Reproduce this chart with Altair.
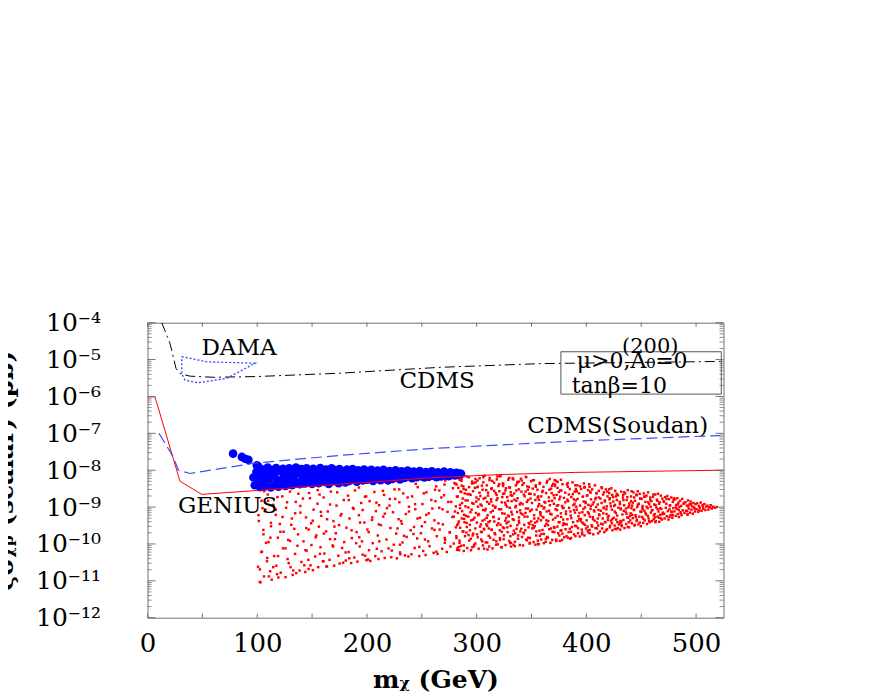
import altair as alt
import pandas as pd

# ---------------- data: x = m_chi (GeV), e = log10(sigma / pb) ----------------
cdms_x = [13, 20.5, 26, 29.6, 38.8, 60, 100, 175, 267, 358, 440, 525]
cdms_e = [-4.0, -4.56, -5.24, -5.38, -5.45, -5.48, -5.46, -5.37, -5.21, -5.11, -5.08, -5.05]

soudan_x = [10.5, 23.5, 28.1, 38.8, 44.9, 100, 175, 260, 390, 522]
soudan_e = [-7.0, -7.64, -8.0, -8.09, -8.06, -7.8, -7.6, -7.41, -7.21, -7.06]

genius_x = [0, 6.8, 29.6, 49.4, 100, 175, 262, 320, 390, 525]
genius_e = [-6.01, -6.01, -8.3, -8.655, -8.55, -8.38, -8.2, -8.12, -8.06, -8.0]

dama_x = [31.2, 54.0, 98.0, 72.2, 46.3, 34.2, 31.2, 31.2]
dama_e = [-4.92, -5.06, -5.10, -5.51, -5.63, -5.56, -5.38, -4.92]

blue_pts = [
    (78, -7.55), (86, -7.64), (89, -7.69), (92, -7.72), (99.6, -7.87),
    (96.5, -8.2), (97.8, -8.41), (99.2, -8.05), (100.4, -8.33), (101.1, -7.9), (102.6, -8.46),
    (103.3, -8.17), (104.9, -7.98), (105.6, -8.29), (106.8, -8.44), (108.2, -8.08), (109.5, -7.93),
    (110.1, -8.36), (111.7, -8.21), (112.4, -8.47), (113.9, -7.99), (115.2, -8.12), (115.8, -8.4),
    (117.3, -7.94), (118.6, -8.27), (119.4, -8.45), (120.8, -8.03), (122.1, -8.35), (123.5, -7.96),
    (124.2, -8.18), (125.7, -8.43), (126.9, -8.06), (128.3, -8.3), (129.1, -7.95), (130.6, -8.22),
    (131.8, -8.41), (132.5, -8.01), (134.0, -8.14), (135.3, -7.93), (136.1, -8.33), (137.7, -8.08),
    (138.9, -8.38), (140.2, -7.97), (141.4, -8.25), (142.8, -8.11), (143.5, -8.36), (145.0, -7.95),
    (146.3, -8.19), (147.1, -8.31), (148.6, -8.02), (150.0, -8.37), (151.2, -7.96), (152.7, -8.13),
    (153.4, -8.28), (155.0, -8.05), (156.1, -8.35), (157.5, -7.94), (158.8, -8.2), (160.2, -8.09),
    (161.0, -8.32), (162.6, -7.98), (163.9, -8.24), (165.2, -8.37), (166.4, -8.04), (167.8, -7.95),
    (168.5, -8.16), (170.1, -8.3), (171.3, -8.0), (172.9, -8.22), (174.2, -8.35), (175.0, -7.97),
    (176.6, -8.11), (177.8, -8.27), (179.1, -8.03), (180.4, -8.33), (181.9, -7.98), (183.2, -8.18),
    (184.0, -8.29), (185.7, -8.06), (187.0, -7.97), (188.3, -8.24), (189.6, -8.12), (190.8, -8.31),
    (192.1, -8.0), (193.5, -8.19), (194.9, -8.08), (196.2, -8.28), (197.4, -7.98), (198.8, -8.15),
    (200.1, -8.26), (201.5, -8.03), (202.9, -8.2), (204.0, -7.99), (205.6, -8.29), (206.9, -8.1),
    (208.1, -8.22), (209.7, -8.01), (211.0, -8.17), (212.4, -8.27), (213.8, -8.05), (215.1, -7.99),
    (216.5, -8.21), (217.8, -8.12), (219.2, -8.28), (220.6, -8.02), (222.0, -8.16), (223.3, -8.24),
    (224.7, -8.06), (226.1, -8.0), (227.4, -8.19), (228.8, -8.11), (230.2, -8.25), (231.6, -8.03),
    (233.0, -8.15), (234.3, -8.21), (235.7, -8.07), (237.1, -8.01), (238.5, -8.17), (239.9, -8.12),
    (241.2, -8.22), (242.6, -8.04), (244.0, -8.14), (245.4, -8.19), (246.8, -8.07), (248.1, -8.02),
    (249.5, -8.16), (250.9, -8.11), (252.3, -8.2), (253.7, -8.05), (255.0, -8.13), (256.4, -8.18),
    (257.8, -8.08), (259.2, -8.03), (260.6, -8.15), (262.0, -8.1), (263.4, -8.19), (264.8, -8.06),
    (266.2, -8.13), (267.6, -8.17), (269.0, -8.07), (270.4, -8.04), (271.8, -8.14), (273.2, -8.1),
    (274.6, -8.16), (276.0, -8.06), (277.4, -8.12), (278.8, -8.09), (280.2, -8.14), (281.6, -8.07),
    (283.0, -8.11), (284.4, -8.09), (285.8, -8.1),
]

# red points, read column by column
red_pts = [
    (100.8, -10.62), (101.5, -9.38), (102.3, -11.03), (103.9, -8.83), (104.4, -10.21), (105.7, -9.74),
    (106.2, -10.88), (107.5, -9.07), (108.9, -10.47), (109.6, -8.66), (110.3, -9.95), (111.8, -10.74),
    (112.6, -9.52), (113.2, -10.97), (114.7, -8.94), (115.5, -10.33), (116.9, -9.21), (117.4, -10.59),
    (118.8, -9.83), (119.3, -10.91),
    (120.6, -9.46), (121.4, -10.78), (122.9, -8.71), (123.5, -10.12), (124.1, -9.67), (125.8, -10.9),
    (126.3, -9.02), (127.7, -10.41), (128.2, -9.89), (129.9, -8.58), (130.4, -10.63), (131.6, -9.31),
    (132.3, -10.84), (133.8, -9.59), (134.5, -10.27), (135.1, -8.86), (136.7, -10.05), (137.2, -9.74),
    (138.6, -10.72), (139.4, -9.15),
    (140.3, -10.49), (141.7, -8.77), (142.2, -9.93), (143.8, -10.76), (144.5, -9.28), (145.1, -10.18),
    (146.9, -9.61), (147.3, -8.62), (148.6, -10.58), (149.2, -9.44), (150.7, -10.71), (151.4, -9.07),
    (152.8, -10.34), (153.3, -9.82), (154.9, -8.91), (155.6, -10.63), (156.2, -9.53), (157.7, -10.09),
    (158.4, -9.24), (159.8, -10.47),
    (160.5, -8.74), (161.2, -10.26), (162.8, -9.66), (163.6, -10.61), (164.3, -9.12), (165.9, -10.43),
    (166.4, -9.87), (167.1, -8.58), (168.7, -10.04), (169.5, -9.38), (170.2, -10.59), (171.6, -9.71),
    (172.3, -8.96), (173.9, -10.32), (174.6, -9.49), (175.1, -10.53), (176.8, -9.19), (177.4, -10.11),
    (178.9, -8.81), (179.3, -9.95),
    (180.7, -10.45), (181.3, -9.56), (182.8, -8.69), (183.4, -10.22), (184.1, -9.31), (185.6, -10.52),
    (186.2, -9.84), (187.9, -9.05), (188.5, -10.37), (189.1, -8.55), (190.6, -9.68), (191.3, -10.48),
    (192.7, -9.22), (193.4, -10.07), (194.8, -8.89), (195.5, -9.93), (196.1, -10.29), (197.7, -9.42),
    (198.2, -8.72), (199.6, -10.44),
    (200.4, -9.61), (201.9, -10.17), (202.5, -8.84), (203.1, -10.46), (204.7, -9.35), (205.3, -9.98),
    (206.8, -8.59), (207.6, -10.33), (208.2, -9.11), (209.9, -9.77), (210.5, -10.41), (211.1, -8.95),
    (212.7, -9.49), (213.4, -10.2), (214.9, -9.26), (215.6, -8.67), (216.2, -10.38), (217.8, -9.88),
    (218.3, -9.03), (219.7, -10.12),
    (220.9, -8.78), (221.4, -9.57), (222.2, -10.36), (223.8, -9.14), (224.5, -10.02), (225.1, -8.52),
    (226.7, -9.72), (227.3, -10.39), (228.9, -9.33), (229.6, -8.87), (230.2, -10.23), (231.8, -9.45),
    (232.4, -9.96), (233.1, -8.63), (234.7, -10.31), (235.5, -9.19), (236.2, -9.81), (237.8, -10.34),
    (238.3, -8.99), (239.9, -9.63),
    (240.6, -10.28), (241.2, -8.71), (242.9, -9.54), (243.5, -10.11), (244.1, -9.06), (245.8, -9.85),
    (246.3, -8.46), (247.7, -10.33), (248.4, -9.29), (249.2, -9.71), (250.6, -8.92), (251.3, -10.19),
    (252.9, -9.41), (253.5, -10.3), (254.2, -8.6), (255.8, -9.93), (256.4, -9.17), (257.1, -10.06),
    (258.7, -8.81), (259.3, -9.58),
    (260.8, -10.24), (261.5, -9.36), (262.1, -8.53), (263.7, -9.79), (264.4, -10.27), (265.9, -9.02),
    (266.3, -9.61), (267.8, -8.74), (268.6, -10.13), (269.2, -9.47), (270.7, -8.39), (271.3, -9.89),
    (272.8, -10.22), (273.5, -9.13), (274.1, -8.86), (275.6, -9.68), (276.2, -10.07), (277.9, -9.27),
    (278.4, -8.49), (279.1, -9.99),
    (280.3, -9.12), (280.9, -8.37), (281.6, -9.84), (282.2, -10.16), (282.8, -8.71), (283.1, -9.45),
    (283.7, -8.22), (284.4, -9.97), (284.9, -9.03), (285.3, -8.58), (285.8, -10.05), (286.4, -9.31),
    (286.7, -8.89), (287.2, -9.66), (287.9, -8.44), (288.3, -10.19), (288.6, -9.21), (289.1, -8.63),
    (289.4, -9.79), (289.8, -8.98), (281.1, -9.55), (283.9, -10.08), (286.1, -8.29), (288.9, -9.41),
    (290.2, -8.53), (290.7, -9.69), (291.3, -10.11), (291.8, -8.82), (292.4, -9.26), (292.9, -8.19),
    (293.3, -9.91), (293.8, -9.48), (294.5, -8.67), (294.9, -10.17), (295.4, -9.07), (295.8, -8.36),
    (296.3, -9.77), (296.9, -9.34), (297.2, -8.91), (297.7, -10.02), (298.3, -8.48), (298.8, -9.58),
    (299.4, -9.16), (299.8, -8.74), (290.9, -9.43), (293.1, -8.46), (296.1, -10.09), (298.9, -8.24),
    (300.4, -9.74), (300.8, -8.28), (301.5, -9.22), (301.9, -10.13), (302.6, -8.61), (303.1, -9.53),
    (303.5, -8.93), (304.2, -9.88), (304.8, -8.42), (305.3, -9.37), (305.7, -10.04), (306.4, -8.77),
    (306.9, -9.61), (307.2, -8.15), (307.8, -9.09), (308.3, -9.96), (308.7, -8.54), (309.2, -9.29),
    (309.6, -8.86), (309.9, -10.15), (301.2, -8.99), (303.9, -9.67), (306.1, -8.33), (308.9, -9.47),
    (310.3, -8.69), (310.8, -9.41), (311.4, -10.07), (311.9, -8.21), (312.3, -9.83), (312.9, -9.14),
    (313.4, -8.51), (313.8, -9.62), (314.5, -10.12), (314.9, -8.96), (315.3, -9.27), (315.9, -8.34),
    (316.4, -9.71), (316.8, -9.02), (317.3, -8.62), (317.9, -9.93), (318.2, -8.81), (318.7, -9.49),
    (319.3, -10.01), (319.8, -8.43), (311.1, -9.58), (313.1, -8.79), (316.1, -9.39), (318.9, -8.17),
    (320.2, -9.32), (320.7, -8.57), (321.3, -9.89), (321.8, -8.16), (322.3, -9.06), (322.8, -10.09),
    (323.4, -8.73), (323.9, -9.55), (324.3, -8.38), (324.8, -9.77), (325.4, -9.18), (325.9, -8.88),
    (326.3, -10.03), (326.7, -8.49), (327.3, -9.44), (327.8, -8.99), (328.2, -9.68), (328.8, -8.26),
    (329.3, -9.25), (329.7, -9.92), (321.1, -9.63), (324.1, -8.64), (326.1, -9.37), (328.5, -8.83),
    (330.4, -8.47), (330.9, -9.51), (331.3, -9.97), (331.9, -8.84), (332.4, -9.2), (332.8, -8.22),
    (333.3, -9.74), (333.9, -9.35), (334.2, -8.63), (334.8, -10.06), (335.3, -9.01), (335.7, -8.41),
    (336.4, -9.59), (336.9, -9.13), (337.3, -8.76), (337.7, -9.86), (338.4, -8.31), (338.8, -9.43),
    (339.2, -8.93), (339.8, -9.66), (331.1, -8.68), (333.6, -10.02), (336.2, -8.55), (338.6, -9.28),
    (340.3, -9.17), (340.8, -8.58), (341.4, -9.81), (341.9, -8.92), (342.3, -10.04), (342.9, -8.35),
    (343.4, -9.48), (343.8, -8.71), (344.4, -9.63), (344.9, -9.04), (345.2, -8.19), (345.8, -9.9),
    (346.3, -9.26), (346.9, -8.81), (347.3, -9.55), (347.7, -8.46), (348.3, -9.99), (348.9, -9.11),
    (349.2, -8.64), (349.7, -9.39), (341.1, -8.28), (343.1, -9.71), (346.6, -8.53), (348.6, -9.84),
    (350.4, -8.89), (350.8, -9.58), (351.3, -8.27), (351.9, -9.95), (352.4, -9.22), (352.8, -8.66),
    (353.3, -9.42), (353.9, -8.41), (354.3, -9.77), (354.7, -9.07), (355.4, -8.53), (355.9, -10.0),
    (356.3, -9.31), (356.8, -8.8), (357.3, -9.64), (357.7, -8.34), (358.2, -9.16), (358.8, -9.88),
    (359.2, -8.97), (359.7, -8.59), (351.1, -9.49), (353.6, -10.02), (356.1, -8.71), (358.6, -9.36),
    (360.3, -9.27), (360.9, -8.45), (361.3, -9.73), (361.8, -8.86), (362.3, -9.51), (362.9, -9.94),
    (363.3, -8.62), (363.8, -9.12), (364.4, -8.29), (364.9, -9.83), (365.3, -9.38), (365.8, -8.74),
    (366.2, -9.6), (366.8, -8.95), (367.3, -9.97), (367.9, -8.5), (368.3, -9.2), (368.7, -8.83),
    (369.2, -9.67), (369.8, -8.37), (361.1, -9.04), (363.6, -9.45), (366.6, -8.24), (368.9, -9.89),
    (370.4, -8.91), (370.9, -9.56), (371.3, -8.43), (371.8, -9.29), (372.4, -9.88), (372.9, -8.67),
    (373.3, -9.08), (373.8, -8.32), (374.3, -9.71), (374.8, -9.41), (375.4, -8.79), (375.9, -9.92),
    (376.3, -8.55), (376.8, -9.17), (377.2, -9.63), (377.8, -8.97), (378.3, -8.38), (378.7, -9.49),
    (379.3, -9.02), (379.8, -9.82), (371.1, -8.27), (373.6, -9.53), (376.1, -8.72), (378.9, -9.34),
    (380.3, -9.46), (380.8, -8.61), (381.4, -9.12), (381.9, -9.79), (382.3, -8.39), (382.8, -9.33),
    (383.4, -8.84), (383.8, -9.68), (384.3, -9.02), (384.9, -8.51), (385.3, -9.86), (385.7, -9.23),
    (386.3, -8.73), (386.8, -9.54), (387.4, -8.33), (387.9, -9.41), (388.2, -8.95), (388.8, -9.74),
    (389.3, -8.58), (389.7, -9.15), (381.1, -9.6), (383.1, -8.45), (386.1, -9.84), (388.6, -8.79),
    (390.4, -8.82), (390.9, -9.52), (391.3, -9.07), (391.8, -8.41), (392.4, -9.71), (392.8, -9.25),
    (393.3, -8.63), (393.9, -9.8), (394.3, -8.96), (394.8, -9.38), (395.2, -8.51), (395.8, -9.61),
    (396.4, -9.14), (396.8, -8.72), (397.3, -9.45), (397.7, -8.36), (398.3, -9.77), (398.8, -9.01),
    (399.3, -8.89), (399.8, -9.58), (391.1, -8.57), (393.6, -9.33), (396.1, -9.69), (398.6, -8.46),
    (400.3, -9.36), (400.9, -8.68), (401.3, -9.64), (401.8, -8.94), (402.4, -9.18), (402.9, -8.45),
    (403.3, -9.71), (403.8, -9.05), (404.3, -8.79), (404.8, -9.49), (405.3, -8.52), (405.9, -9.27),
    (406.3, -9.74), (406.7, -8.87), (407.4, -9.12), (407.8, -8.41), (408.3, -9.57), (408.8, -9.0),
    (409.3, -8.62), (409.8, -9.42), (401.1, -9.53), (403.6, -8.58), (406.1, -9.33), (408.6, -8.75),
    (410.4, -8.93), (410.8, -9.5), (411.3, -8.56), (411.9, -9.22), (412.3, -9.66), (412.8, -8.77),
    (413.3, -9.1), (413.8, -8.46), (414.4, -9.58), (414.9, -9.31), (415.3, -8.66), (415.8, -9.03),
    (416.3, -9.68), (416.9, -8.85), (417.3, -9.41), (417.8, -8.52), (418.4, -9.19), (418.8, -9.6),
    (419.3, -8.71), (419.7, -9.35), (411.1, -9.08), (413.6, -9.45), (416.1, -8.6), (418.6, -8.98),
    (420.3, -9.24), (420.8, -8.62), (421.4, -9.55), (421.9, -8.9), (422.4, -9.37), (422.8, -8.49),
    (423.3, -9.07), (423.8, -9.63), (424.3, -8.73), (424.9, -9.29), (425.3, -8.97), (425.8, -9.5),
    (426.3, -8.56), (426.8, -9.16), (427.4, -9.6), (427.8, -8.81), (428.3, -9.41), (428.8, -8.68),
    (429.2, -9.02), (429.7, -9.47), (421.1, -8.79), (423.6, -9.33), (426.1, -8.94), (428.6, -9.57),
    (430.4, -8.86), (430.9, -9.43), (431.3, -9.06), (431.8, -8.58), (432.3, -9.52), (432.9, -9.2),
    (433.3, -8.74), (433.8, -9.35), (434.4, -8.95), (434.8, -9.57), (435.3, -8.63), (435.8, -9.13),
    (436.3, -9.46), (436.8, -8.81), (437.2, -9.28), (437.8, -8.54), (438.3, -9.01), (438.8, -9.55),
    (439.2, -8.9), (439.7, -9.24), (431.1, -9.38), (433.6, -8.67), (436.1, -9.04), (438.6, -9.41),
    (440.3, -9.17), (440.8, -8.71), (441.4, -9.44), (441.8, -8.96), (442.3, -9.3), (442.9, -8.6),
    (443.3, -9.08), (443.8, -9.5), (444.3, -8.83), (444.9, -9.22), (445.3, -8.66), (445.8, -9.38),
    (446.3, -9.0), (446.8, -8.57), (447.4, -9.47), (447.8, -8.91), (448.3, -9.26), (448.9, -8.77),
    (449.2, -9.12), (449.7, -9.52), (441.1, -9.03), (443.6, -8.74), (446.1, -9.34), (448.6, -8.64),
    (450.4, -8.78), (450.9, -9.27), (451.3, -8.97), (451.8, -9.43), (452.3, -8.63), (452.9, -9.1),
    (453.3, -9.36), (453.8, -8.86), (454.4, -9.2), (454.8, -8.69), (455.3, -9.46), (455.9, -9.03),
    (456.3, -8.6), (456.8, -9.31), (457.3, -8.92), (457.8, -9.41), (458.3, -8.74), (458.8, -9.15),
    (459.3, -8.84), (459.8, -9.38), (451.1, -9.06), (453.6, -8.71), (456.1, -9.24), (458.6, -8.99),
    (460.3, -9.08), (460.8, -8.72), (461.4, -9.33), (461.9, -8.93), (462.3, -9.19), (462.8, -8.66),
    (463.4, -9.38), (463.8, -9.01), (464.3, -8.8), (464.9, -9.26), (465.3, -8.64), (465.8, -9.12),
    (466.4, -9.4), (466.8, -8.87), (467.3, -9.21), (467.8, -8.69), (468.3, -9.05), (468.8, -9.34),
    (469.3, -8.77), (469.7, -9.15), (463.1, -8.95), (466.1, -9.29),
    (470.4, -8.84), (470.9, -9.18), (471.3, -9.31), (471.8, -8.73), (472.4, -9.02), (472.9, -8.91),
    (473.3, -9.25), (473.8, -8.7), (474.3, -9.11), (474.9, -9.34), (475.3, -8.79), (475.8, -9.06),
    (476.4, -8.95), (476.8, -9.22), (477.3, -8.74), (477.8, -9.14), (478.3, -9.29), (478.8, -8.86),
    (479.3, -9.03), (479.8, -8.76),
    (480.3, -9.12), (480.9, -8.79), (481.4, -9.24), (481.8, -8.94), (482.4, -9.05), (482.9, -8.76),
    (483.3, -9.19), (483.9, -8.88), (484.3, -9.27), (484.8, -9.0), (485.4, -8.83), (485.9, -9.14),
    (486.4, -8.97), (486.8, -9.22), (487.4, -8.78), (487.9, -9.09), (488.6, -8.91), (489.4, -9.16),
    (490.3, -8.87), (490.9, -9.1), (491.5, -8.96), (492.1, -9.2), (492.7, -8.82), (493.3, -9.04),
    (493.9, -8.93), (494.5, -9.15), (495.1, -8.85), (495.8, -9.07), (496.4, -8.98), (497.0, -9.18),
    (497.6, -8.89), (498.2, -9.01), (498.9, -9.12), (499.5, -8.92),
    (500.4, -9.06), (501.1, -8.9), (501.9, -9.13), (502.6, -8.97), (503.4, -9.02), (504.2, -8.88),
    (505.0, -9.1), (505.9, -8.95), (506.7, -9.05), (507.5, -8.92), (508.4, -9.08), (509.3, -8.99),
    (510.3, -8.96), (511.2, -9.07), (512.2, -9.0), (513.3, -8.95), (514.4, -9.04), (515.6, -8.99),
    (517.1, -9.02), (518.8, -9.0),
]

# further red points, read row by row
red_pts2 = [
    (286.2, -8.24), (290.9, -8.17), (302.7, -8.22), (306.1, -8.19), (318.4, -8.25), (321.0, -8.16),
    (329.6, -8.21), (340.3, -8.23), (344.8, -8.18),
    (271.4, -8.28), (279.8, -8.35), (284.5, -8.26), (295.9, -8.31), (299.1, -8.33), (311.7, -8.27),
    (314.2, -8.29), (323.8, -8.36), (333.5, -8.25), (337.0, -8.32), (349.6, -8.3), (352.2, -8.27),
    (363.9, -8.34), (372.4, -8.29), (376.8, -8.26),
    (244.5, -8.37), (263.1, -8.44), (281.7, -8.39), (286.4, -8.42), (297.2, -8.35), (300.8, -8.45),
    (309.3, -8.41), (320.6, -8.38), (324.1, -8.43), (336.9, -8.36), (341.7, -8.4), (346.2, -8.44),
    (357.4, -8.37), (368.8, -8.42), (371.5, -8.39), (383.0, -8.35), (389.9, -8.41), (394.3, -8.44),
    (402.6, -8.38),
    (155.1, -8.54), (192.7, -8.47), (229.4, -8.52), (266.0, -8.55), (283.3, -8.48), (288.1, -8.51),
    (300.9, -8.46), (305.4, -8.53), (313.8, -8.49), (326.2, -8.55), (329.7, -8.47), (338.4, -8.52),
    (351.1, -8.5), (353.9, -8.45), (366.3, -8.53), (373.7, -8.48), (377.2, -8.55), (390.5, -8.51),
    (398.1, -8.47), (401.6, -8.54), (414.2, -8.49), (420.8, -8.52),
    (106.3, -8.57), (137.5, -8.64), (172.9, -8.6), (214.6, -8.56), (251.8, -8.63), (285.9, -8.59),
    (293.2, -8.65), (296.7, -8.57), (310.5, -8.61), (316.0, -8.56), (325.3, -8.63), (331.1, -8.6),
    (344.6, -8.58), (347.9, -8.64), (360.2, -8.56), (368.4, -8.62), (375.0, -8.59), (387.6, -8.65),
    (391.1, -8.57), (403.8, -8.61), (409.3, -8.63), (419.1, -8.58), (427.7, -8.64), (434.5, -8.6),
    (441.2, -8.57),
    (118.4, -8.73), (156.8, -8.66), (199.3, -8.71), (237.1, -8.74), (270.3, -8.68), (282.1, -8.72),
    (291.6, -8.65), (303.4, -8.7), (307.9, -8.75), (318.2, -8.67), (327.9, -8.73), (332.5, -8.69),
    (343.0, -8.66), (355.7, -8.74), (358.8, -8.71), (370.2, -8.68), (379.6, -8.75), (384.1, -8.66),
    (396.8, -8.72), (400.5, -8.69), (411.3, -8.74), (423.6, -8.67), (426.9, -8.71), (437.4, -8.73),
    (446.0, -8.68), (452.7, -8.72), (461.1, -8.66),
    (109.9, -8.83), (148.1, -8.76), (183.5, -8.81), (225.8, -8.78), (262.4, -8.84), (287.3, -8.77),
    (289.9, -8.82), (301.8, -8.79), (313.3, -8.85), (319.0, -8.76), (334.4, -8.8), (336.2, -8.83),
    (349.1, -8.77), (353.5, -8.81), (365.9, -8.84), (371.1, -8.76), (382.7, -8.8), (392.0, -8.78),
    (397.6, -8.85), (408.2, -8.79), (416.9, -8.82), (421.4, -8.76), (433.8, -8.81), (440.7, -8.84),
    (449.5, -8.77), (458.2, -8.8), (464.8, -8.83), (473.1, -8.78), (479.6, -8.81),
    (127.2, -8.87), (166.4, -8.93), (208.7, -8.88), (243.9, -8.92), (276.7, -8.86), (284.8, -8.94),
    (296.0, -8.89), (299.7, -8.85), (311.4, -8.91), (322.9, -8.87), (326.5, -8.94), (340.1, -8.89),
    (345.8, -8.86), (357.0, -8.92), (362.6, -8.88), (374.3, -8.95), (380.9, -8.87), (389.2, -8.91),
    (399.4, -8.86), (405.7, -8.93), (413.9, -8.89), (424.5, -8.85), (430.6, -8.92), (442.3, -8.88),
    (447.0, -8.94), (456.4, -8.87), (466.2, -8.91), (470.8, -8.86), (483.5, -8.93), (488.9, -8.89),
    (495.2, -8.92),
    (104.8, -9.03), (139.3, -8.97), (187.2, -9.02), (220.5, -8.96), (259.6, -9.04), (281.0, -8.98),
    (292.4, -9.01), (304.6, -8.96), (308.2, -9.05), (317.1, -8.99), (330.2, -9.02), (335.8, -8.97),
    (346.9, -9.04), (356.1, -8.98), (361.7, -9.01), (373.1, -8.96), (378.5, -9.03), (390.8, -8.99),
    (397.3, -9.05), (404.0, -8.97), (416.1, -9.01), (422.3, -8.98), (431.4, -9.04), (439.0, -8.96),
    (451.2, -9.02), (454.9, -8.99), (467.3, -9.03), (476.0, -8.97), (481.6, -9.01), (492.8, -8.98),
    (498.7, -9.04), (506.3, -8.99), (512.4, -9.01),
    (116.9, -9.07), (158.0, -9.13), (196.1, -9.08), (238.3, -9.12), (268.9, -9.06), (286.8, -9.11),
    (294.3, -9.14), (305.9, -9.08), (314.7, -9.1), (320.4, -9.06), (331.6, -9.13), (339.7, -9.09),
    (350.3, -9.07), (357.9, -9.14), (366.0, -9.1), (371.9, -9.06), (385.5, -9.12), (388.7, -9.08),
    (401.4, -9.14), (406.9, -9.09), (418.3, -9.06), (425.8, -9.12), (434.1, -9.1), (443.6, -9.07),
    (450.1, -9.13), (459.7, -9.09), (465.0, -9.06), (477.6, -9.12), (484.4, -9.08), (491.9, -9.11),
    (502.7, -9.09),
    (101.2, -9.22), (134.6, -9.17), (176.0, -9.23), (216.3, -9.18), (254.1, -9.21), (282.9, -9.16),
    (290.4, -9.24), (302.1, -9.19), (310.0, -9.22), (323.3, -9.17), (328.6, -9.23), (341.9, -9.2),
    (344.5, -9.16), (358.3, -9.22), (367.1, -9.18), (373.8, -9.24), (381.4, -9.19), (393.7, -9.16),
    (398.5, -9.22), (411.6, -9.2), (415.4, -9.17), (428.1, -9.23), (436.6, -9.18), (441.8, -9.21),
    (453.9, -9.16), (461.5, -9.23), (469.4, -9.19), (478.8, -9.22), (486.1, -9.17), (492.3, -9.2),
    (123.1, -9.27), (163.7, -9.33), (204.9, -9.28), (246.1, -9.31), (279.1, -9.26), (288.6, -9.32),
    (298.0, -9.29), (307.3, -9.34), (315.5, -9.27), (326.9, -9.3), (332.9, -9.33), (343.7, -9.26),
    (352.6, -9.31), (360.8, -9.28), (369.7, -9.34), (377.0, -9.27), (386.3, -9.3), (395.0, -9.32),
    (403.2, -9.26), (410.5, -9.31), (419.6, -9.28), (427.2, -9.34), (438.3, -9.29), (445.1, -9.27),
    (452.0, -9.32), (462.6, -9.28), (468.1, -9.31), (475.7, -9.27),
    (112.5, -9.43), (150.6, -9.37), (193.8, -9.42), (231.2, -9.38), (265.2, -9.44), (283.8, -9.39),
    (295.1, -9.36), (300.2, -9.42), (312.2, -9.38), (319.8, -9.44), (329.0, -9.4), (338.5, -9.37),
    (347.4, -9.43), (355.2, -9.39), (363.6, -9.36), (375.6, -9.41), (379.3, -9.44), (391.9, -9.38),
    (396.4, -9.42), (407.6, -9.37), (417.0, -9.41), (423.2, -9.44), (431.9, -9.39), (440.0, -9.36),
    (448.7, -9.42), (457.2, -9.38), (462.9, -9.41),
    (131.0, -9.48), (170.4, -9.53), (210.8, -9.47), (250.0, -9.52), (282.3, -9.49), (291.0, -9.54),
    (303.9, -9.47), (309.5, -9.51), (321.8, -9.48), (328.0, -9.55), (337.1, -9.49), (348.2, -9.46),
    (352.9, -9.52), (365.0, -9.49), (370.5, -9.54), (382.1, -9.47), (389.8, -9.51), (398.7, -9.48),
    (405.3, -9.53), (414.9, -9.47), (421.6, -9.51), (432.2, -9.49), (437.8, -9.54), (444.2, -9.48),
    (105.6, -9.62), (144.7, -9.57), (186.0, -9.63), (227.9, -9.58), (261.6, -9.62), (285.0, -9.56),
    (293.9, -9.63), (306.6, -9.59), (313.6, -9.61), (325.0, -9.57), (333.9, -9.64), (340.7, -9.59),
    (351.9, -9.56), (360.0, -9.62), (367.8, -9.58), (376.5, -9.64), (384.9, -9.59), (392.4, -9.57),
    (402.9, -9.62), (409.6, -9.58), (418.0, -9.63), (426.1, -9.59), (430.8, -9.61),
    (121.1, -9.67), (160.8, -9.72), (201.6, -9.68), (242.4, -9.73), (275.5, -9.69), (287.9, -9.66),
    (296.9, -9.72), (304.7, -9.68), (316.9, -9.74), (323.0, -9.67), (335.2, -9.71), (342.8, -9.69),
    (354.4, -9.66), (359.1, -9.73), (370.8, -9.68), (378.1, -9.72), (386.0, -9.67), (396.2, -9.74),
    (401.9, -9.69), (410.8, -9.71),
    (112.0, -9.83), (153.9, -9.77), (193.0, -9.82), (233.8, -9.78), (270.9, -9.84), (281.5, -9.79),
    (292.6, -9.76), (301.0, -9.82), (311.0, -9.78), (321.2, -9.84), (330.8, -9.79), (337.8, -9.77),
    (347.0, -9.83), (357.6, -9.78), (364.3, -9.81), (375.4, -9.77), (383.3, -9.83), (390.1, -9.79),
    (129.9, -9.92), (170.9, -9.87), (211.3, -9.93), (252.9, -9.88), (284.4, -9.91), (294.6, -9.86),
    (305.2, -9.93), (315.4, -9.89), (324.6, -9.87), (334.9, -9.94), (345.1, -9.88), (355.8, -9.91),
    (363.1, -9.86), (372.7, -9.92), (377.9, -9.89),
    (108.0, -9.97), (149.4, -10.03), (190.2, -9.98), (230.1, -10.02), (271.0, -9.97), (288.3, -10.04),
    (298.9, -9.99), (309.6, -9.96), (317.7, -10.02), (330.5, -9.98), (339.3, -10.03), (348.6, -9.97),
    (356.5, -10.01), (361.3, -9.98),
    (125.8, -10.12), (169.2, -10.07), (209.0, -10.13), (247.8, -10.08), (282.6, -10.11), (297.6, -10.06),
    (306.8, -10.13), (322.5, -10.09), (331.4, -10.07),
    (103.7, -10.22), (144.0, -10.17), (180.6, -10.23), (222.7, -10.18), (263.3, -10.21), (284.0, -10.17),
    (119.0, -10.33), (157.2, -10.27), (198.4, -10.32), (230.4, -10.28),
    (109.1, -10.38), (146.6, -10.43), (183.9, -10.39), (201.0, -10.42),
    (128.7, -10.52), (160.4, -10.47), (178.3, -10.51),
    (114.6, -10.63), (142.9, -10.58), (163.0, -10.61),
    (102.4, -10.69), (132.8, -10.72), (146.8, -10.68),
    (118.1, -10.82), (135.6, -10.79), (110.6, -10.88), (103.0, -11.04),
]

ann_text = ["DAMA", "CDMS", "CDMS(Soudan)", "GENIUS", "(200)", "μ>0,A₀=0", "tanβ=10"]
ann_x = [83.4, 264, 428.6, 73, 458.2, 441.8, 430]
ann_e = [-4.878, -5.774, -7.0, -9.158, -4.82, -5.235, -5.897]
ann_fs = [23, 23, 23, 23, 21, 22, 22]

box_x = [376.8, 523]
box_e = [-4.788, -5.937]

x_tick_values = [0, 100, 200, 300, 400, 500]
x_minor_ticks = [0, 50, 100, 150, 200, 250, 300, 350, 400, 450, 500]
y_tick_exps = [-12, -11, -10, -9, -8, -7, -6, -5, -4]
y_tick_labels = ["10⁻¹²", "10⁻¹¹", "10⁻¹⁰", "10⁻⁹", "10⁻⁸", "10⁻⁷", "10⁻⁶", "10⁻⁵", "10⁻⁴"]
y_minor_mult = [2, 3, 4, 5, 6, 7, 8, 9]

# ---------------- build tables ----------------
def line_df(xs, es):
    return pd.DataFrame({"x": xs, "y": [10.0 ** e for e in es], "o": list(range(len(xs)))})

def pts_df(pts):
    return pd.DataFrame({"x": [p[0] for p in pts], "y": [10.0 ** p[1] for p in pts]})

cdms_df = line_df(cdms_x, cdms_e)
soudan_df = line_df(soudan_x, soudan_e)
genius_df = line_df(genius_x, genius_e)
dama_df = line_df(dama_x, dama_e)
blue_df = pts_df(blue_pts)
red_df = pts_df(red_pts + red_pts2)
ann_df = pd.DataFrame({"x": ann_x, "y": [10.0 ** e for e in ann_e], "t": ann_text, "fs": ann_fs})
box_df = pd.DataFrame({"x": [box_x[0]], "x2": [box_x[1]], "y": [10.0 ** box_e[0]], "y2": [10.0 ** box_e[1]]})

y_major = [10.0 ** e for e in y_tick_exps]
y_minor = [m * 10.0 ** e for e in y_tick_exps[:-1] for m in y_minor_mult]
ymaj_df = pd.DataFrame({"y": y_major})
ymin_df = pd.DataFrame({"y": y_minor})
xt_df = pd.DataFrame({"x": x_minor_ticks})

W, H = 576, 295
SERIF = "DejaVu Serif"
FRAME = "#707070"

expr = ""
for v, lab in zip(y_major[:-1], y_tick_labels[:-1]):
    expr += f"datum.value < {v * 3:g} ? '{lab}' : "
expr += f"'{y_tick_labels[-1]}'"

x_scale = alt.Scale(domain=[0, 525], nice=False, zero=False)
y_scale = alt.Scale(type="log", domain=[1e-12, 1e-4], nice=False)

x_axis = alt.Axis(
    values=x_tick_values, ticks=False, domain=False, grid=False,
    labelFont=SERIF, labelFontSize=26, labelColor="black", labelPadding=13,
    labelBaseline="top", labelFlush=False,
    title="mᵪ (GeV)", titleFont=SERIF, titleFontSize=25, titleFontWeight="bold",
    titleColor="black", titleX=W / 2, titleY=70, titleBaseline="alphabetic",
    titleAlign="center",
)
y_axis = alt.Axis(
    values=y_major, ticks=False, domain=False, grid=False, labelExpr=expr,
    labelFont=SERIF, labelFontSize=25, labelColor="black", labelPadding=47,
    labelFlush=False,
    title="ξσᵪₚ (scalar) (pb)", titleFont=SERIF, titleFontSize=25,
    titleFontWeight="bold", titleColor="black", titleAngle=270,
    titleX=-135.5, titleY=H / 2, titleBaseline="alphabetic", titleAlign="center",
)

X = alt.X("x:Q", scale=x_scale, axis=x_axis)
Y = alt.Y("y:Q", scale=y_scale, axis=y_axis)

red = alt.Chart(red_df).mark_square(size=6, color="#ff0000", opacity=1).encode(x=X, y=Y)
blue = alt.Chart(blue_df).mark_circle(size=74, color="#0000ff", opacity=1).encode(x=X, y=Y)

genius = alt.Chart(genius_df).mark_line(color="#ff0000", strokeWidth=1, clip=True).encode(
    x=X, y=Y, order="o:Q")
soudan = alt.Chart(soudan_df).mark_line(color="#3a4dff", strokeWidth=1.2, strokeDash=[11, 5], clip=True).encode(
    x=X, y=Y, order="o:Q")
cdms = alt.Chart(cdms_df).mark_line(color="black", strokeWidth=1, strokeDash=[10, 4, 2, 4], clip=True).encode(
    x=X, y=Y, order="o:Q")
dama = alt.Chart(dama_df).mark_line(color="#3344ff", strokeWidth=1.3, strokeDash=[2, 2], clip=True).encode(
    x=X, y=Y, order="o:Q")

box = alt.Chart(box_df).mark_rect(fill=None, stroke="#555555", strokeWidth=1).encode(
    x=X, x2="x2:Q", y=Y, y2="y2:Q")

text = alt.Chart(ann_df).mark_text(font=SERIF, align="center", baseline="alphabetic", color="black").encode(
    x=X, y=Y, text="t:N", size=alt.Size("fs:Q", scale=None))

tick_bot = alt.Chart(xt_df).mark_rule(color=FRAME, strokeWidth=1).encode(
    x=X, y=alt.value(H), y2=alt.value(H - 4))
tick_top = alt.Chart(xt_df).mark_rule(color=FRAME, strokeWidth=1).encode(
    x=X, y=alt.value(0), y2=alt.value(4))
ymaj_l = alt.Chart(ymaj_df).mark_rule(color=FRAME, strokeWidth=1).encode(
    y=Y, x=alt.value(0), x2=alt.value(8))
ymaj_r = alt.Chart(ymaj_df).mark_rule(color=FRAME, strokeWidth=1).encode(
    y=Y, x=alt.value(W), x2=alt.value(W - 8))
ymin_l = alt.Chart(ymin_df).mark_rule(color=FRAME, strokeWidth=0.8).encode(
    y=Y, x=alt.value(0), x2=alt.value(4))
ymin_r = alt.Chart(ymin_df).mark_rule(color=FRAME, strokeWidth=0.8).encode(
    y=Y, x=alt.value(W), x2=alt.value(W - 4))

chart = alt.layer(
    red, blue, genius, soudan, cdms, dama, box, text,
    tick_bot, tick_top, ymaj_l, ymaj_r, ymin_l, ymin_r,
).properties(
    width=W, height=H,
    autosize=alt.AutoSizeParams(type="none"),
    padding={"left": 139.5, "top": 314.7, "right": 40, "bottom": 78},
    background="white",
).configure_view(stroke=FRAME, strokeWidth=1)

chart.save("out.html", embed_options={"renderer": "svg", "actions": False})
